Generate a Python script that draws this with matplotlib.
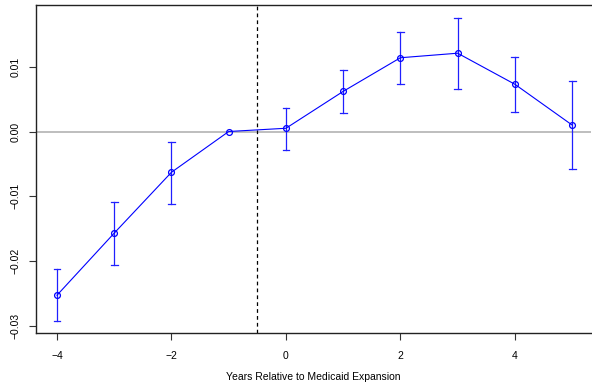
import matplotlib
matplotlib.use("Agg")
import matplotlib.pyplot as plt

plt.rcParams['font.family'] = ['Liberation Sans', 'DejaVu Sans']

# event-study estimates
years = [-4, -3, -2, -1, 0, 1, 2, 3, 4, 5]
coef = [-0.0253, -0.0157, -0.0063, 0.0, 0.0005, 0.0062, 0.0114, 0.0121, 0.0073, 0.0010]
ci_lo = [-0.0293, -0.0206, -0.0112, 0.0, -0.0029, 0.0028, 0.0074, 0.0066, 0.0030, -0.0058]
ci_hi = [-0.0212, -0.0109, -0.0016, 0.0, 0.0036, 0.0095, 0.0154, 0.0176, 0.0115, 0.0078]
xticks = [-4, -2, 0, 2, 4]
yticks = [-0.03, -0.02, -0.01, 0.0, 0.01]
ytick_labels = ["-0.03", "-0.02", "-0.01", "0.00", "0.01"]

fig = plt.figure(figsize=(5.92, 3.89), dpi=100)
ax = fig.add_axes([36 / 592, 1 - 333 / 389, (591 - 36) / 592, (333 - 5) / 389])

ax.axhline(0, color='#b3b3b3', lw=1.2, zorder=1)
ax.axvline(-0.5, color='black', lw=0.9, ls=(0, (3, 2.5)), zorder=1)

# error bars (skip the reference year)
for x, lo, hi in zip(years, ci_lo, ci_hi):
    if lo == hi:
        continue
    ax.plot([x, x], [lo, hi], color='#2020ff', lw=0.9, zorder=2)
    ax.plot([x - 0.06, x + 0.06], [lo, lo], color='#2020ff', lw=0.9, zorder=2)
    ax.plot([x - 0.06, x + 0.06], [hi, hi], color='#2020ff', lw=0.9, zorder=2)

ax.plot(years, coef, color='#0000ff', lw=0.8, marker='o', ms=4.2,
        mfc='none', mec='#0000ff', mew=0.9, zorder=3)

ax.set_xlim(-4.367, 5.33)
ax.set_ylim(-0.03114, 0.01955)
ax.set_xticks(xticks)
ax.set_xticklabels([str(t).replace('-', '\u2212') for t in xticks])
ax.set_yticks(yticks)
ax.set_yticklabels([t.replace('-', '\u2212') for t in ytick_labels], rotation=90, va='center')
ax.tick_params(axis='both', labelsize=7.5, length=5, width=0.8, color='#333333')
ax.tick_params(axis='x', pad=8)
ax.tick_params(axis='y', pad=6)

for s in ['left', 'bottom', 'top']:
    ax.spines[s].set_linewidth(1.0)
    ax.spines[s].set_color('#222222')
ax.spines['right'].set_visible(False)

fig.text(313.5 / 592, 1 - 377 / 389, "Years Relative to Medicaid Expansion",
         fontsize=7.5, ha='center', va='center')

fig.savefig("out.png", dpi=100)
